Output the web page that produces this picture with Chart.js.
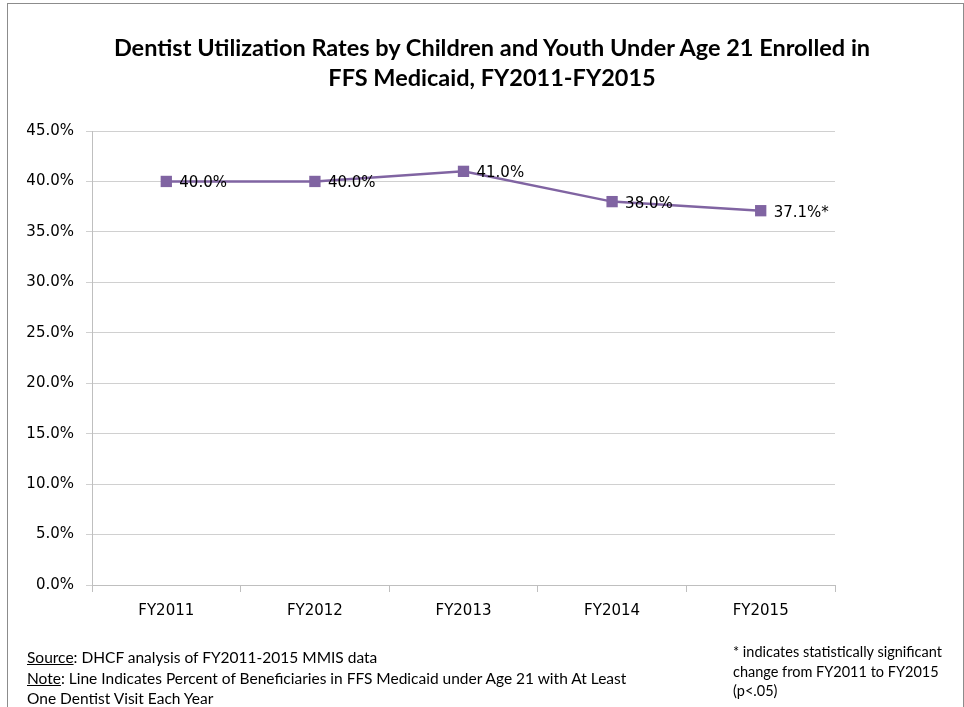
<!DOCTYPE html>
<html>
<head>
<meta charset="utf-8">
<script src="https://cdn.jsdelivr.net/npm/chart.js@4.4.1/dist/chart.umd.min.js"></script>
<style>
  html, body { margin: 0; padding: 0; background: #fff; }
  #wrap { position: relative; width: 964px; height: 707px; overflow: hidden; }
  #frame { position: absolute; left: 7px; top: 3px; width: 957px; height: 720px; border: 1px solid #8c8c8c; box-sizing: border-box; }
  canvas { position: absolute; left: 0; top: 0; }
  .title { position: absolute; left: 42px; width: 900px; text-align: center; white-space: nowrap;
           font-family: Lato, sans-serif; font-weight: bold; font-size: 23.5px; color: #000; }
  .foot { position: absolute; white-space: nowrap; font-family: Lato, sans-serif; font-size: 15.5px; color: #000; }
  .foot.r { font-size: 14.5px; }
</style>
</head>
<body>
<div id="wrap">
  <div id="frame"></div>
  <canvas id="chart" width="964" height="707"></canvas>
  <div class="title" style="top:33px">Dentist Utilization Rates by Children and Youth Under Age 21 Enrolled in</div>
  <div class="title" style="top:63px">FFS Medicaid, FY2011-FY2015</div>
  <div class="foot" style="left:27px; top:648px"><u>Source</u>: DHCF analysis of FY2011-2015 MMIS data</div>
  <div class="foot" style="left:27px; top:669px"><u>Note</u>: Line Indicates Percent of Beneficiaries in FFS Medicaid under Age 21 with At Least</div>
  <div class="foot" style="left:27px; top:689px">One Dentist Visit Each Year</div>
  <div class="foot r" style="left:733px; top:643px">* indicates statistically significant</div>
  <div class="foot r" style="left:733px; top:663px">change from FY2011 to FY2015</div>
  <div class="foot r" style="left:733px; top:682px">(p&lt;.05)</div>
</div>
<script>
const years = ['FY2011', 'FY2012', 'FY2013', 'FY2014', 'FY2015']
const rates = [40.0, 40.0, 41.0, 38.0, 37.1]
const rateLabels = ['40.0%', '40.0%', '41.0%', '38.0%', '37.1%*']

const purple = '#8064a2'
const tickFont = { family: '"DejaVu Sans", Verdana, sans-serif', size: 15 }

// data labels to the right of each marker
const pointLabels = {
  id: 'pointLabels',
  afterDatasetsDraw(chart) {
    const ctx = chart.ctx
    const meta = chart.getDatasetMeta(0)
    ctx.save()
    ctx.font = '15px "DejaVu Sans", Verdana, sans-serif'
    ctx.fillStyle = '#000'
    ctx.textAlign = 'left'
    ctx.textBaseline = 'middle'
    meta.data.forEach((pt, i) => {
      ctx.fillText(rateLabels[i], pt.x + 13, pt.y + 2)
    })
    ctx.restore()
  }
}

new Chart(document.getElementById('chart'), {
  type: 'line',
  data: {
    labels: years,
    datasets: [{
      data: rates,
      borderColor: purple,
      backgroundColor: purple,
      borderWidth: 2.5,
      pointStyle: 'rect',
      pointRadius: 8,
      pointBorderWidth: 0,
      pointBackgroundColor: purple,
      tension: 0
    }]
  },
  options: {
    responsive: false,
    animation: false,
    events: [],
    layout: { padding: { left: 0, right: 129, top: 131, bottom: 82 } },
    plugins: {
      legend: { display: false },
      title: { display: false },
      tooltip: { enabled: false }
    },
    scales: {
      x: {
        offset: true,
        afterFit: s => { s.height = 40 },
        grid: { offset: true, drawOnChartArea: false, drawTicks: true, tickLength: 7, color: '#bfbfbf' },
        border: { color: '#bfbfbf' },
        ticks: { font: tickFont, color: '#000', padding: 10 }
      },
      y: {
        min: 0,
        max: 45,
        afterFit: s => { s.width = 92 },
        grid: { color: '#d0d0d0', tickLength: 6 },
        border: { color: '#bfbfbf' },
        ticks: {
          stepSize: 5,
          font: tickFont,
          color: '#000',
          padding: 12,
          callback: v => v.toFixed(1) + '%'
        }
      }
    }
  },
  plugins: [pointLabels]
})
</script>
</body>
</html>
